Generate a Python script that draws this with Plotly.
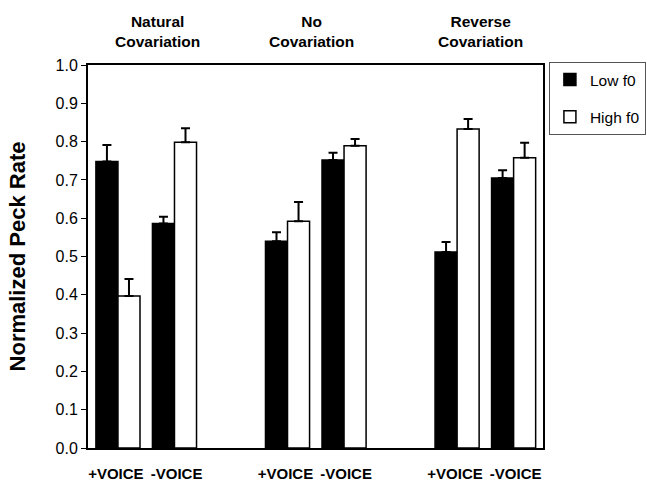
import plotly.graph_objects as go

# ---- data ----
conditions = ["Natural<br>Covariation", "No<br>Covariation", "Reverse<br>Covariation"]
voicing = ["+VOICE\u00a0", "\u00a0-VOICE"]
low_f0 = [0.748, 0.586, 0.540, 0.752, 0.512, 0.705]
low_f0_err = [0.043, 0.018, 0.023, 0.019, 0.026, 0.020]
high_f0 = [0.397, 0.798, 0.592, 0.789, 0.833, 0.758]
high_f0_err = [0.044, 0.037, 0.050, 0.018, 0.026, 0.039]
y_ticks = [0.0, 0.1, 0.2, 0.3, 0.4, 0.5, 0.6, 0.7, 0.8, 0.9, 1.0]

# slot positions: two voicing slots per condition, one empty slot between conditions
x_pos = [g * 3 + v for g in range(len(conditions)) for v in range(len(voicing))]
x_labels = [v for _ in conditions for v in voicing]

FONT = "Arial, Liberation Sans, sans-serif"

fig = go.Figure()
fig.add_trace(go.Bar(
    x=x_pos, y=low_f0, name="Low f0", legendgroup="low",
    marker=dict(color="black", line=dict(color="black", width=1.5)),
    error_y=dict(type="data", symmetric=False, array=low_f0_err,
                 arrayminus=[0] * len(low_f0_err), color="black", thickness=2, width=4.5),
))
fig.add_trace(go.Bar(
    x=x_pos, y=high_f0, name="High f0", legendgroup="high",
    marker=dict(color="white", line=dict(color="black", width=1.5)),
    error_y=dict(type="data", symmetric=False, array=high_f0_err,
                 arrayminus=[0] * len(high_f0_err), color="black", thickness=2, width=4.5),
))

# condition titles above groups
title_x = [0.152, 0.492, 0.862]
for name, xp in zip(conditions, title_x):
    fig.add_annotation(text="<b>" + name + "</b>", x=xp, xref="paper", y=1.034, yref="paper",
                       yanchor="bottom", xanchor="center", showarrow=False,
                       font=dict(family=FONT, size=15.5, color="black"), align="center")

fig.update_layout(
    width=647, height=485,
    margin=dict(l=88, r=104, t=65, b=37, autoexpand=False),
    paper_bgcolor="white", plot_bgcolor="white",
    barmode="group", bargap=0.22, bargroupgap=0,
    font=dict(family=FONT, color="black"),
    showlegend=True,
    legend=dict(x=1.013, y=1.008, xanchor="left", yanchor="top",
                bordercolor="#555555", borderwidth=1, bgcolor="white",
                font=dict(family=FONT, size=15.5, color="black"),
                traceorder="grouped", tracegroupgap=14, itemwidth=30),
    xaxis=dict(range=[-0.53, 7.52], tickmode="array", tickvals=x_pos, ticktext=x_labels,
               tickangle=0,
               tickfont=dict(family=FONT, size=15, color="black", weight="bold"),
               showline=True, linecolor="black", linewidth=2, mirror=True,
               ticks="", showgrid=False, zeroline=False, ticklabelstandoff=11),
    yaxis=dict(range=[0, 1.0], tickmode="array", tickvals=y_ticks,
               ticktext=[f"{v:.1f}" for v in y_ticks],
               tickfont=dict(family=FONT, size=16, color="black"),
               ticks="outside", ticklen=5, tickcolor="black", tickwidth=1,
               showline=True, linecolor="black", linewidth=2, mirror=True,
               showgrid=False, zeroline=False,
               title=dict(text="<b>Normalized Peck Rate</b>",
                          font=dict(family=FONT, size=22, color="black"), standoff=24)),
)

fig.write_html("out.html", config={"displayModeBar": False},
               post_script="document.body.style.margin='0';")
